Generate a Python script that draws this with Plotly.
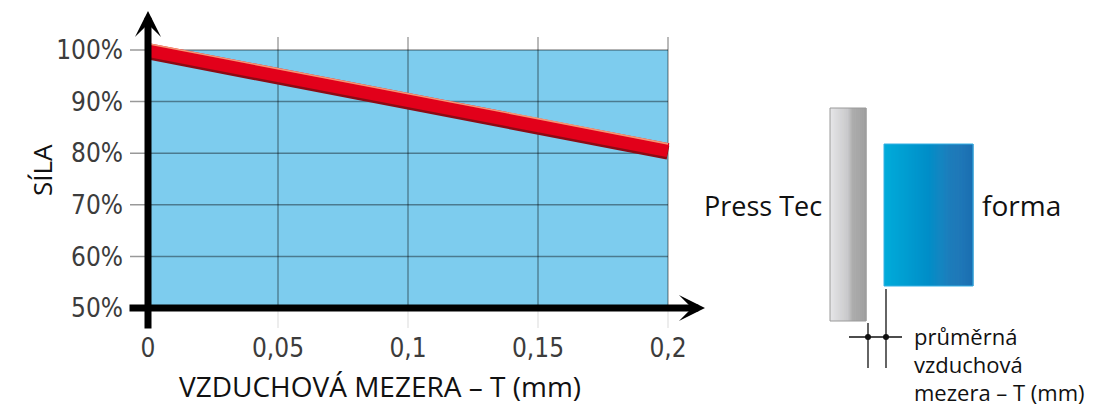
import plotly.graph_objects as go

# ---------------- data ----------------
gap_mm = [0, 0.05, 0.1, 0.15, 0.2]
force_pct = [100, 95.2, 90.3, 85.5, 80.6]

x_ticks = [0, 0.05, 0.1, 0.15, 0.2]
x_tick_text = ["0", "0,05", "0,1", "0,15", "0,2"]
y_ticks = [50, 60, 70, 80, 90, 100]
y_tick_text = ["50%", "60%", "70%", "80%", "90%", "100%"]

x_title = "VZDUCHOVÁ MEZERA – T (mm)"
y_title = "SÍLA"
label_press = "Press Tec"
label_form = "forma"
label_gap = ["průměrná", "vzduchová", "mezera – T (mm)"]

# ---------------- layout helpers (screen pixels) ----------------
W, H = 1100, 405
OFF = 8                            # page body margin
X0_PX, XSTEP_PX = 148, 130.0       # pixel of x=0, pixels per 0.05
Y50_PX, Y100_PX = 308, 50          # pixel rows of 50% and 100%
xpp = 0.05 / XSTEP_PX
ypp = 50.0 / (Y50_PX - Y100_PX)


def xv(px):
    return (px - X0_PX) * xpp


def yv(py):
    return 50 - (py - Y50_PX) * ypp


def px_x(px):
    return (px - OFF) / W


def px_y(py):
    return 1 - (py - OFF) / H


dom_l, dom_r, dom_t, dom_b = 128, 712, 10, 328

TICK_FONT = dict(family="Liberation Sans Narrow, DejaVu Sans Condensed, Arial Narrow, sans-serif",
                 size=26, color="#3c3c3c")
TEXT_FONT = "Open Sans, Noto Sans, sans-serif"

fig = go.Figure()

# red force line: shadow (shifted down), body, highlight (shifted up)
fig.add_trace(go.Scatter(x=gap_mm, y=force_pct, mode="lines", yaxis="y2",
                         line=dict(color="#8C0A14", width=14),
                         hoverinfo="skip", showlegend=False))
fig.add_trace(go.Scatter(x=gap_mm, y=force_pct, mode="lines", yaxis="y3",
                         line=dict(color="#E2001A", width=14),
                         showlegend=False))
fig.add_trace(go.Scatter(x=gap_mm, y=force_pct, mode="lines", yaxis="y4",
                         line=dict(color="rgba(247,165,125,0.9)", width=1.6),
                         hoverinfo="skip", showlegend=False))

shapes = []
# blue plotting field
shapes.append(dict(type="rect", xref="x", yref="y", x0=x_ticks[0], x1=x_ticks[-1],
                   y0=y_ticks[0], y1=y_ticks[-1], fillcolor="#7DCCEE",
                   line=dict(width=0), layer="below"))
# vertical grid lines
for t in x_ticks[1:]:
    shapes.append(dict(type="line", xref="x", yref="y", x0=t, x1=t,
                       y0=y_ticks[0], y1=yv(37),
                       line=dict(color="rgba(0,0,0,0.36)", width=1.5), layer="below"))
    shapes.append(dict(type="line", xref="x", yref="y", x0=t, x1=t,
                       y0=yv(330), y1=y_ticks[0],
                       line=dict(color="rgba(0,0,0,0.12)", width=1.2), layer="below"))
# horizontal grid lines
for t in y_ticks[1:]:
    shapes.append(dict(type="line", xref="x", yref="y", x0=xv(130), x1=x_ticks[-1],
                       y0=t, y1=t,
                       line=dict(color="rgba(0,0,0,0.40)", width=1.5), layer="below"))


# ---------------- right-hand diagram ----------------
def lerp_stops(stops, f):
    for (a, ca), (b, cb) in zip(stops[:-1], stops[1:]):
        if a <= f <= b:
            k = (f - a) / (b - a) if b > a else 0
            return tuple(int(round(ca[i] + (cb[i] - ca[i]) * k)) for i in range(3))
    return stops[-1][1]


def gradient_rect(x0, x1, y0, y1, stops, border, n=90):
    out = []
    w = (x1 - x0) / n
    for i in range(n):
        c = lerp_stops(stops, (i + 0.5) / n)
        out.append(dict(type="rect", xref="paper", yref="paper",
                        x0=px_x(x0 + i * w), x1=px_x(x0 + (i + 1) * w + 0.5),
                        y0=px_y(y1), y1=px_y(y0),
                        fillcolor="rgb(%d,%d,%d)" % c, line=dict(width=0)))
    out.append(dict(type="rect", xref="paper", yref="paper",
                    x0=px_x(x0), x1=px_x(x1), y0=px_y(y1), y1=px_y(y0),
                    fillcolor="rgba(0,0,0,0)", line=dict(color=border, width=1)))
    return out


gray_stops = [(0, (230, 230, 232)), (0.5, (200, 200, 202)), (0.62, (172, 172, 172)), (1, (158, 158, 158))]
blue_stops = [(0, (0, 172, 218)), (0.5, (0, 142, 200)), (0.75, (14, 115, 182)), (1, (24, 108, 176))]
shapes += gradient_rect(830, 866, 108, 321, gray_stops, "#9a9a9a")
shapes += gradient_rect(884, 973, 144, 286, blue_stops, "#35b0e4")

# dimension lines
for (xa, ya, xb, yb) in [(868, 323, 868, 368), (886, 289, 886, 368), (849, 337, 902, 337)]:
    shapes.append(dict(type="line", xref="paper", yref="paper",
                       x0=px_x(xa), y0=px_y(ya), x1=px_x(xb), y1=px_y(yb),
                       line=dict(color="#111111", width=1.3)))
for cx in (868, 886):
    shapes.append(dict(type="circle", xref="paper", yref="paper",
                       x0=px_x(cx - 3), x1=px_x(cx + 3), y0=px_y(340), y1=px_y(334),
                       fillcolor="#111111", line=dict(width=0)))

annotations = []
# axis arrows
annotations.append(dict(x=0, y=yv(11), xref="x", yref="y", ax=0, ay=yv(330),
                        axref="x", ayref="y", text="", showarrow=True,
                        arrowhead=3, arrowwidth=7, arrowsize=0.62, arrowcolor="#000000",
                        standoff=0, startstandoff=0))
annotations.append(dict(x=xv(705), y=50, xref="x", yref="y", ax=xv(128), ay=50,
                        axref="x", ayref="y", text="", showarrow=True,
                        arrowhead=3, arrowwidth=7, arrowsize=0.62, arrowcolor="#000000",
                        standoff=0, startstandoff=0))
# titles
annotations.append(dict(x=px_x(380), y=px_y(386), xref="paper", yref="paper",
                        text=x_title, showarrow=False, xanchor="center", yanchor="middle",
                        font=dict(family=TEXT_FONT, size=28, color="#111111")))
annotations.append(dict(x=px_x(42), y=px_y(170), xref="paper", yref="paper",
                        text=y_title, showarrow=False, textangle=-90,
                        xanchor="center", yanchor="middle",
                        font=dict(family=TEXT_FONT, size=26, color="#111111")))
annotations.append(dict(x=px_x(824), y=px_y(205), xref="paper", yref="paper",
                        text=label_press, showarrow=False, xanchor="right", yanchor="middle",
                        font=dict(family=TEXT_FONT, size=27, color="#111111")))
annotations.append(dict(x=px_x(980), y=px_y(205), xref="paper", yref="paper",
                        text=label_form, showarrow=False, xanchor="left", yanchor="middle",
                        font=dict(family=TEXT_FONT, size=28, color="#111111")))
for i, line in enumerate(label_gap):
    annotations.append(dict(x=px_x(912), y=px_y(336 + 28 * i), xref="paper", yref="paper",
                            text=line, showarrow=False, xanchor="left", yanchor="middle",
                            font=dict(family=TEXT_FONT, size=22, color="#111111")))

y_range = [yv(dom_b), yv(dom_t)]
y_dom = [px_y(dom_b), px_y(dom_t)]


def shifted(px_down):
    return [y_range[0] + px_down * ypp, y_range[1] + px_down * ypp]


fig.update_layout(
    width=W, height=H, autosize=False,
    margin=dict(l=0, r=0, t=0, b=0, pad=0),
    paper_bgcolor="white", plot_bgcolor="rgba(0,0,0,0)",
    showlegend=False,
    shapes=shapes, annotations=annotations,
    xaxis=dict(domain=[px_x(dom_l), px_x(dom_r)], range=[xv(dom_l), xv(dom_r)],
               tickvals=x_ticks, ticktext=x_tick_text, tickfont=TICK_FONT,
               showgrid=False, zeroline=False, showline=False, ticks="",
               ticklabelstandoff=2, fixedrange=True),
    yaxis=dict(domain=y_dom, range=y_range,
               tickvals=y_ticks, ticktext=y_tick_text, tickfont=TICK_FONT,
               showgrid=False, zeroline=False, showline=False, ticks="",
               ticklabelstandoff=4, fixedrange=True),
    # shadow axis: same scale, shifted 2.5 px down
    yaxis2=dict(domain=y_dom, range=shifted(2.5), overlaying="y", visible=False, fixedrange=True),
    # body axis: same scale as main y
    yaxis3=dict(domain=y_dom, range=shifted(0), overlaying="y", visible=False, fixedrange=True),
    # highlight axis: same scale, shifted 6 px up
    yaxis4=dict(domain=y_dom, range=shifted(-6.2), overlaying="y", visible=False, fixedrange=True),
)

fig.write_html("out.html")
